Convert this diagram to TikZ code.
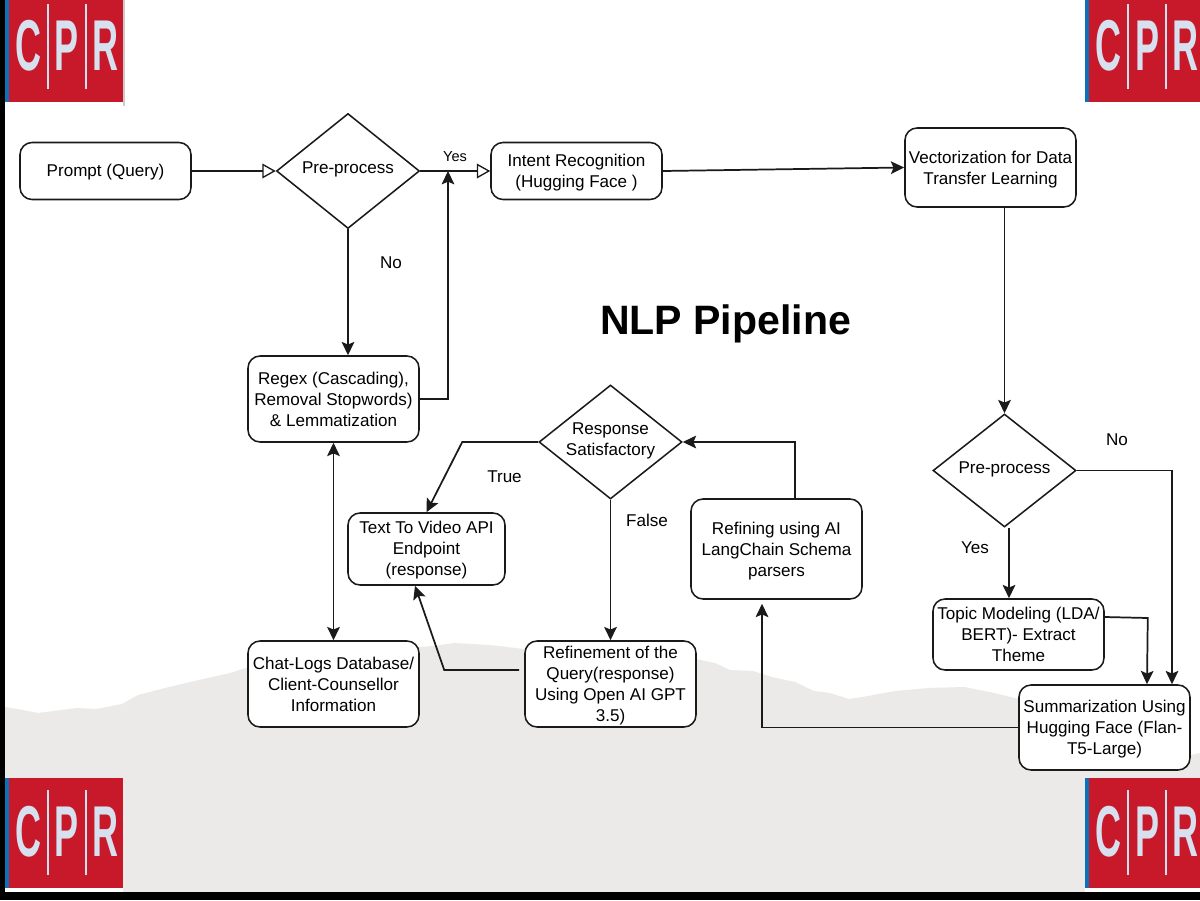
\documentclass[tikz,border=0pt]{standalone}
\usepackage{fontspec}
\setmainfont{Liberation Sans}
\usetikzlibrary{arrows.meta,shapes.geometric,calc}
\definecolor{ink}{HTML}{1A1A1A}
\definecolor{ridge}{HTML}{EBEAE9}
\definecolor{logored}{HTML}{C8192B}
\definecolor{logoblue}{HTML}{0F6FB8}
\definecolor{logotext}{HTML}{D6E0EE}
\newcommand{\padtext}[3]{\raisebox{0pt}[\dimexpr\height+#1\relax][\dimexpr\depth+#2\relax]{\begin{tabular}{@{}c@{}}#3\end{tabular}}}
\tikzset{
  x=0.75pt,y=-0.75pt,
  bx/.style 2 args={draw=ink,fill=white,line width=1.15pt,rounded corners=9pt,align=center,inner sep=0pt,
    minimum width=#1*0.75pt,minimum height=#2*0.75pt,font=\fontsize{12.8}{15.8}\selectfont},
  dia/.style 2 args={draw=ink,fill=white,line width=1.15pt,shape=diamond,align=center,inner sep=0pt,aspect=1.24,
    minimum width=#1*0.75pt,minimum height=#2*0.75pt,font=\fontsize{12.8}{15.8}\selectfont},
  lbl/.style={inner sep=0pt,font=\fontsize{12.8}{15.5}\selectfont},
  flow/.style={draw=ink,line width=1.3pt,-{Stealth[length=10pt,width=9.5pt,inset=2pt]}},
  flowboth/.style={draw=ink,line width=1.3pt,{Stealth[length=10pt,width=9.5pt,inset=2pt]}-{Stealth[length=10pt,width=9.5pt,inset=2pt]}},
  flowopen/.style={draw=ink,line width=1.3pt,-{Triangle[open,length=10pt,width=11pt,line width=1pt]}},
  logoletter/.style={inner sep=0pt,text=logotext,xscale=0.5,font=\fontsize{54}{54}\bfseries\selectfont},
}
\newcommand{\cprlogo}[5]{% prefix, x, y, width, clip-height
  \begin{scope}
    \clip (#2,#3) rectangle (#2+#4,#3+#5);
    \fill[logored] (#2,#3) rectangle (#2+#4,#3+110);
    \fill[logoblue] (#2,#3) rectangle (#2+4,#3+110);
    \fill[logotext] (#2+42.3,#3+12) rectangle (#2+43.8,#3+97);
    \fill[logotext] (#2+80.3,#3+12) rectangle (#2+81.8,#3+97);
    \node[logoletter] (#1c) at (#2+23,#3+54) {C};
    \node[logoletter] (#1p) at (#2+62,#3+54) {P};
    \node[logoletter] (#1r) at (#2+100.5,#3+54) {R};
  \end{scope}
}
\begin{document}
\begin{tikzpicture}
\useasboundingbox (0,0) rectangle (1200,900);
\fill[white] (0,0) rectangle (1200,900);
% ridge
\fill[ridge] (5,707) -- (23,710) -- (38,713) -- (77,708) -- (96,709) -- (122,704) -- (138,695) -- (165,688)
  -- (199,680) -- (230,673) -- (249,667) -- (330,655) -- (420,647) -- (432,646) -- (455,643) -- (490,645) -- (524,649)
  -- (696,659) -- (715,663) -- (730,670) -- (753,671) -- (772,677) -- (795,682) -- (814,691) -- (830,693)
  -- (849,699) -- (868,696) -- (895,691) -- (929,688) -- (964,687) -- (990,692) -- (1019,699) -- (1110,730)
  -- (1191,755) -- (1200,753) -- (1200,892) -- (5,892) -- cycle;
% logos
\fill[black!20] (123,0) rectangle (125,106);
\cprlogo{tl}{5}{-8}{118}{110}
\cprlogo{tr}{1085}{-8}{115}{110}
\cprlogo{bl}{5}{778}{118}{110}
\cprlogo{br}{1085}{778}{115}{110}
\fill[white] (5,888) rectangle (123,892);
\fill[white] (1085,888) rectangle (1200,892);
% frame
\fill[black] (0,0) rectangle (5,900);
\fill[black] (0,892) rectangle (1200,900);
% title
\node[inner sep=0pt,font=\fontsize{30.8}{36}\bfseries\selectfont] (title) at (725.5,324) {NLP Pipeline};
% nodes
\node[bx={171}{57}] (prompt) at (105.5,171) {\padtext{1.5pt}{0pt}{Prompt (Query)}};
\node[dia={143}{115}] (pre1) at (348,171) {\padtext{0pt}{3pt}{Pre-process}};
\node[bx={171}{57}] (intent) at (576.5,171) {\padtext{3pt}{0pt}{Intent Recognition\\(Hugging Face )}};
\node[bx={171}{79}] (vect) at (990.5,167.5) {\padtext{3pt}{0pt}{Vectorization for Data\\Transfer Learning}};
\node[bx={171}{86}] (regex) at (333.5,399) {\padtext{3pt}{0pt}{Regex (Cascading),\\Removal Stopwords)\\\& Lemmatization}};
\node[bx={171}{86}] (chat) at (333.5,684) {\padtext{3pt}{0pt}{Chat-Logs Database/\\Client-Counsellor\\Information}};
\node[bx={171}{86}] (refine) at (610.5,684) {\padtext{1.5pt}{-1.5pt}{Refinement of the\\Query(response)\\Using Open AI GPT\\3.5)}};
\node[bx={157}{72}] (video) at (426.5,549) {\padtext{2.2pt}{0pt}{Text To Video API\\Endpoint\\(response)}};
\node[bx={171}{100}] (lang) at (776.5,549) {\padtext{3pt}{0pt}{Refining using AI\\LangChain Schema\\parsers}};
\node[dia={143}{114}] (resp) at (610.5,442) {\padtext{-2.25pt}{-0.75pt}{Response\\Satisfactory}};
\node[dia={143}{113}] (pre2) at (1004.5,470.5) {\padtext{0pt}{1.5pt}{Pre-process}};
\node[bx={171}{71}] (topic) at (1018.5,634.5) {\padtext{3pt}{0pt}{Topic Modeling (LDA/\\BERT)- Extract\\Theme}};
\node[bx={171}{85}] (summ) at (1104.5,727.5) {\padtext{3pt}{0pt}{Summarization Using\\Hugging Face (Flan-\\T5-Large)}};
% helper points
\coordinate (merge) at (448,171);
% connectors
\draw[flowopen] (prompt.east) -- (pre1.west);
\draw[flowopen] (pre1.east) -- (intent.west);
\draw[flow] (pre1.south) -- (regex.north -| pre1.south);
\draw[flow] (regex.east) -| (merge);
\draw[flow] (intent.east) -- (vect.west);
\draw[flow] (pre2.north |- vect.south) -- (pre2.north);
\draw[flow] (pre2.east) -| ($(summ.north)+(67.5,0)$);
\draw[flow] ($(pre2.south)+(4.5,0)$) -- ($(topic.north)+(-9.5,0)$);
\draw[flow] ($(topic.east)+(0,-17.5)$) -- ($(topic.east)+(43,-16.5)$) -- ($(summ.north)+(42.5,0)$);
\draw[flow] (summ.west) -| ($(lang.south)+(-14.5,4)$);
\draw[flow] ($(lang.north)+(18.5,0)$) |- (resp.east);
\draw[flow] (resp.west) -- ($(resp.west)+(-76,0)$) -- (video.north);
\draw[flow] (resp.south) -- (refine.north);
\draw[flow] ($(refine.west)+(-5,-14)$) -- ($(refine.west)+(-80,-14)$) -- ($(video.south)+(-11.5,0)$);
\draw[flowboth] (regex.south) -- (chat.north);
% labels
\node[lbl,font=\fontsize{10.9}{13}\selectfont] (yes1) at (455,157) {Yes};
\node[lbl] (no1) at (391,263) {No};
\node[lbl] (no2) at (1117,440) {No};
\node[lbl] (yes2) at (975,548) {Yes};
\node[lbl] (truel) at (504.5,477) {True};
\node[lbl] (falsel) at (647,520) {False};
\end{tikzpicture}
\end{document}
